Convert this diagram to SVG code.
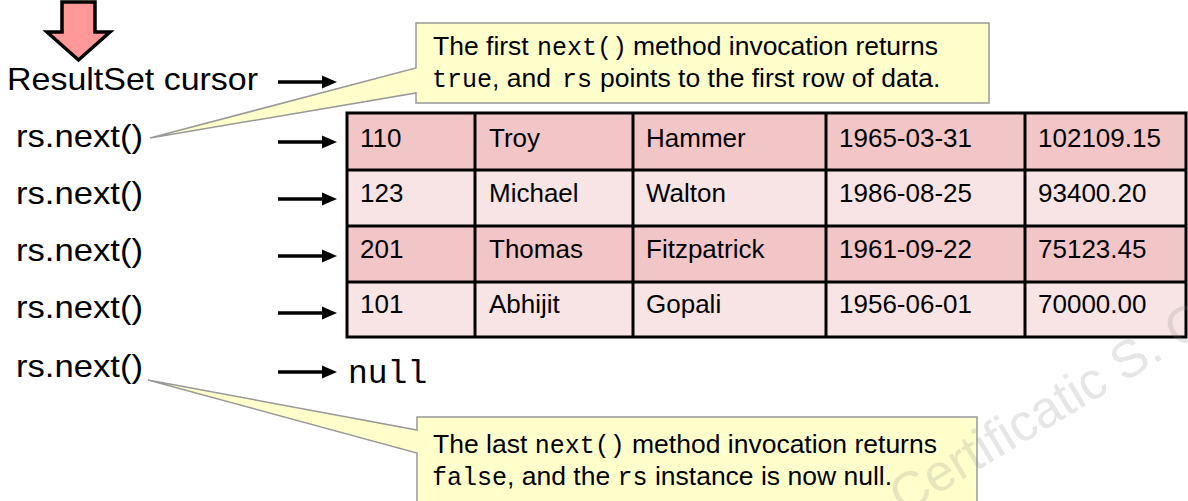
<svg xmlns="http://www.w3.org/2000/svg" width="1188" height="501" viewBox="0 0 1188 501">
<style>
.lbl{font-family:"Liberation Sans",Arial,sans-serif;font-size:32px;fill:#000}
.cell{font-family:"Liberation Sans",Arial,sans-serif;font-size:26px;fill:#000}
.call{font-family:"Liberation Sans",Arial,sans-serif;font-size:26.5px;fill:#000}
.mono{font-family:"Liberation Mono","Courier New",monospace;font-size:25px}
.rowA{fill:#F2C6C7}
.rowB{fill:#F9E4E5}
.grid{stroke:#000;stroke-width:3;fill:none}
.bubble{fill:#FFFFCC;stroke:#999999;stroke-width:1.5}
.arr{stroke:#000;stroke-width:3.5;fill:none}
</style>
<defs>
<marker id="ah" markerUnits="userSpaceOnUse" markerWidth="16" markerHeight="14" refX="2" refY="7" orient="auto">
<path d="M0,0.5 L15,7 L0,13.5 Z" fill="#000"/>
</marker>
</defs>
<rect width="1188" height="501" fill="#fff"/>

<g id="cursor-arrow">
<polygon points="62,2 95,2 95,32 110,32 78.5,60 47,32 62,32" fill="#FF9999" stroke="#000" stroke-width="3.5" stroke-linejoin="miter"/>
</g>

<g id="labels">
<text class="lbl" x="7" y="90" textLength="251" lengthAdjust="spacingAndGlyphs">ResultSet cursor</text>
<text class="lbl" x="16" y="147" textLength="127" lengthAdjust="spacingAndGlyphs">rs.next()</text>
<text class="lbl" x="16" y="204" textLength="127" lengthAdjust="spacingAndGlyphs">rs.next()</text>
<text class="lbl" x="16" y="261" textLength="127" lengthAdjust="spacingAndGlyphs">rs.next()</text>
<text class="lbl" x="16" y="318" textLength="127" lengthAdjust="spacingAndGlyphs">rs.next()</text>
<text class="lbl" x="16" y="377" textLength="127" lengthAdjust="spacingAndGlyphs">rs.next()</text>
</g>

<g id="table">
<rect class="rowA" x="347" y="113" width="839" height="57"/>
<rect class="rowB" x="347" y="170" width="839" height="56"/>
<rect class="rowA" x="347" y="226" width="839" height="56"/>
<rect class="rowB" x="347" y="282" width="839" height="55"/>
<rect class="grid" x="347" y="113" width="839" height="224"/>
<path class="grid" d="M347,170H1186M347,226H1186M347,282H1186M475,113V337M633,113V337M826,113V337M1025,113V337"/>
<g class="cell">
<text x="360" y="147">110</text><text x="489" y="147">Troy</text><text x="646" y="147">Hammer</text><text x="839" y="147">1965-03-31</text><text x="1038" y="147">102109.15</text>
<text x="360" y="202">123</text><text x="489" y="202">Michael</text><text x="646" y="202">Walton</text><text x="839" y="202">1986-08-25</text><text x="1038" y="202">93400.20</text>
<text x="360" y="258">201</text><text x="489" y="258">Thomas</text><text x="646" y="258">Fitzpatrick</text><text x="839" y="258">1961-09-22</text><text x="1038" y="258">75123.45</text>
<text x="360" y="313">101</text><text x="489" y="313">Abhijit</text><text x="646" y="313">Gopali</text><text x="839" y="313">1956-06-01</text><text x="1038" y="313">70000.00</text>
</g>
</g>

<g id="null-result">
<text x="348" y="383" font-family="'Liberation Mono','Courier New',monospace" font-size="33">null</text>
</g>

<g id="connectors">
<path class="arr" d="M278,82H324" marker-end="url(#ah)"/>
<path class="arr" d="M278,142H324" marker-end="url(#ah)"/>
<path class="arr" d="M278,199H324" marker-end="url(#ah)"/>
<path class="arr" d="M278,256H324" marker-end="url(#ah)"/>
<path class="arr" d="M278,313H324" marker-end="url(#ah)"/>
<path class="arr" d="M278,372H324" marker-end="url(#ah)"/>
</g>

<g id="callout-first">
<path class="bubble" d="M416,23H989V103H416V93L150,138L416,68Z"/>
<text class="call" x="433" y="55">The first <tspan class="mono" x="537">next()</tspan> <tspan x="633">method invocation returns</tspan></text>
<text class="call" x="432" y="87"><tspan class="mono">true</tspan>, and <tspan class="mono" x="562">rs</tspan> <tspan x="600">points to the first row of data.</tspan></text>
</g>

<g id="callout-last">
<path class="bubble" d="M417,417H977V515H417V453L148,380L417,430Z"/>
<text class="call" x="433" y="453">The last <tspan class="mono">next()</tspan> method invocation returns</text>
<text class="call" x="432" y="485"><tspan class="mono">false</tspan>, and the <tspan class="mono">rs</tspan> instance is now null.</text>
</g>

<g id="watermark">
<text transform="translate(1123,383) rotate(-31)" x="-326" y="0" font-family="'Liberation Sans',Arial,sans-serif" font-size="52" fill="#808080" fill-opacity="0.2">va Certificatic S. C</text>
</g>
</svg>
